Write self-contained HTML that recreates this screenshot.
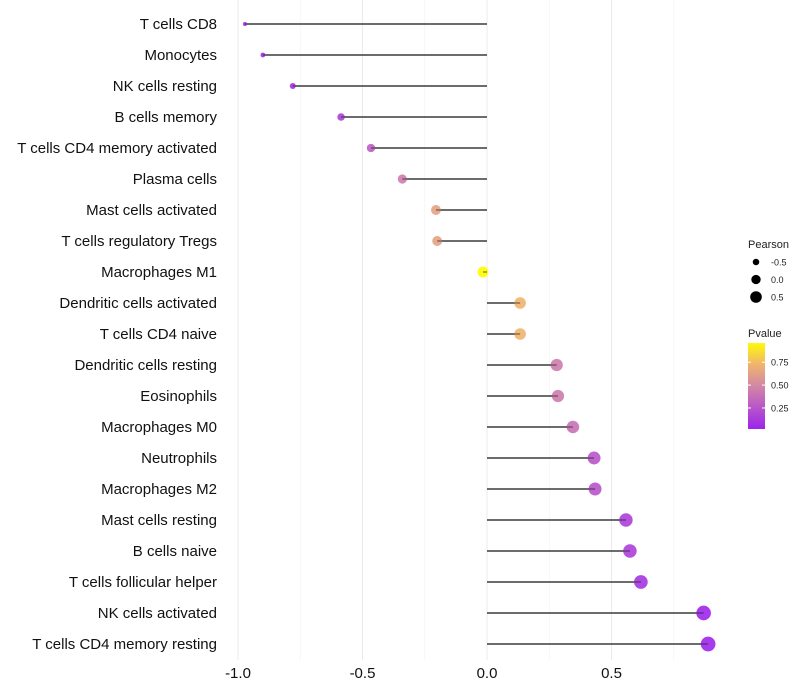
<!DOCTYPE html>
<html><head><meta charset="utf-8"><style>body{margin:0;background:#fff}svg{display:block;font-family:"Liberation Sans",sans-serif}</style></head>
<body>
<svg id="c" width="800" height="700"></svg>
<script>
const categories=["T cells CD8","Monocytes","NK cells resting","B cells memory","T cells CD4 memory activated","Plasma cells","Mast cells activated","T cells regulatory  Tregs","Macrophages M1","Dendritic cells activated","T cells CD4 naive","Dendritic cells resting","Eosinophils","Macrophages M0","Neutrophils","Macrophages M2","Mast cells resting","B cells naive","T cells follicular helper","NK cells activated","T cells CD4 memory resting"];
const pearson=[-0.972,-0.90,-0.78,-0.586,-0.466,-0.34,-0.205,-0.20,-0.016,0.133,0.133,0.28,0.285,0.345,0.43,0.434,0.558,0.574,0.618,0.87,0.888];
const pvalue=[0.05,0.05,0.08,0.15,0.3,0.45,0.65,0.65,0.99,0.75,0.75,0.45,0.45,0.4,0.25,0.25,0.15,0.15,0.1,0.03,0.03];
const xTicks=[-1.0,-0.5,0.0,0.5];
const xTickLabels=["-1.0","-0.5","0.0","0.5"];
const sizeLegend=[-0.5,0.0,0.5];
const cbTicks=[0.25,0.5,0.75];
const NS="http://www.w3.org/2000/svg";
const svg=document.getElementById('c');
function el(t,a,p){const e=document.createElementNS(NS,t);for(const k in a)e.setAttribute(k,a[k]);(p||svg).appendChild(e);return e;}
const xs=v=>487+v*249;
const ys=i=>24+i*31;
const rs=v=>Math.sqrt(Math.max(4,30+27*v));
function col(p){const stops=[[0,[155,32,240]],[0.5,[210,135,165]],[0.75,[240,180,110]],[1,[255,255,0]]];
for(let i=1;i<stops.length;i++){if(p<=stops[i][0]){const a=stops[i-1],b=stops[i],t=(p-a[0])/(b[0]-a[0]);return 'rgb('+a[1].map((c,j)=>Math.round(c+(b[1][j]-c)*t)).join(',')+')';}}return 'rgb(255,255,0)';}
for(let v=-1;v<=0.76;v+=0.25){const major=Math.abs(v*2-Math.round(v*2))<1e-6;const g=el('line',{x1:xs(v),x2:xs(v),y1:0,y2:660,stroke:major?'#ebebeb':'#f3f3f3','stroke-width':major?1:0.6});

}
xTicks.forEach((v,i)=>{const t=el('text',{x:xs(v),y:678,'text-anchor':'middle','font-size':15,fill:'#111'});t.textContent=xTickLabels[i];

});
categories.forEach((c,i)=>{const y=ys(i);
const t=el('text',{x:217,y:y+5,'text-anchor':'end','font-size':15,fill:'#111'});t.textContent=c;


const ln=el('line',{x1:xs(0),x2:xs(pearson[i]),y1:y,y2:y,stroke:'#555','stroke-width':1.5});


const d=el('circle',{cx:xs(pearson[i]),cy:y,r:rs(pearson[i]),fill:col(pvalue[i]),'fill-opacity':0.9});


const ln2=el('line',{x1:xs(0),x2:xs(pearson[i]),y1:y,y2:y,stroke:'#333','stroke-width':1.2,'stroke-opacity':0.6});


});
let t=el('text',{x:748,y:248,'font-size':11,fill:'#222'});t.textContent='Pearson';


sizeLegend.forEach((v,i)=>{const y=262+i*17.5;
const c=el('circle',{cx:756,cy:y,r:rs(v)-0.8,fill:'#000'});


const l=el('text',{x:771,y:y+3.5,'font-size':9,fill:'#222'});l.textContent=v.toFixed(1);

});
t=el('text',{x:748,y:337,'font-size':11,fill:'#222'});t.textContent='Pvalue';


const defs=el('defs',{});const lg=el('linearGradient',{id:'g',x1:0,y1:1,x2:0,y2:0},defs);
[[0,0.02],[0.5,0.5],[0.75,0.75],[1,0.98]].forEach(s=>el('stop',{offset:s[0],'stop-color':col(s[1])},lg));
const cb=el('rect',{x:748,y:343,width:17,height:86,fill:'url(#g)'});


const cy=p=>429-(p-0.02)/(0.96-0.02)*86;
cbTicks.forEach(p=>{el('line',{x1:748,x2:751,y1:cy(p),y2:cy(p),stroke:'#fff'});el('line',{x1:762,x2:765,y1:cy(p),y2:cy(p),stroke:'#fff'});
const l=el('text',{x:771,y:cy(p)+3.5,'font-size':9,fill:'#222'});l.textContent=p.toFixed(2);

});
</script>
</body></html>
